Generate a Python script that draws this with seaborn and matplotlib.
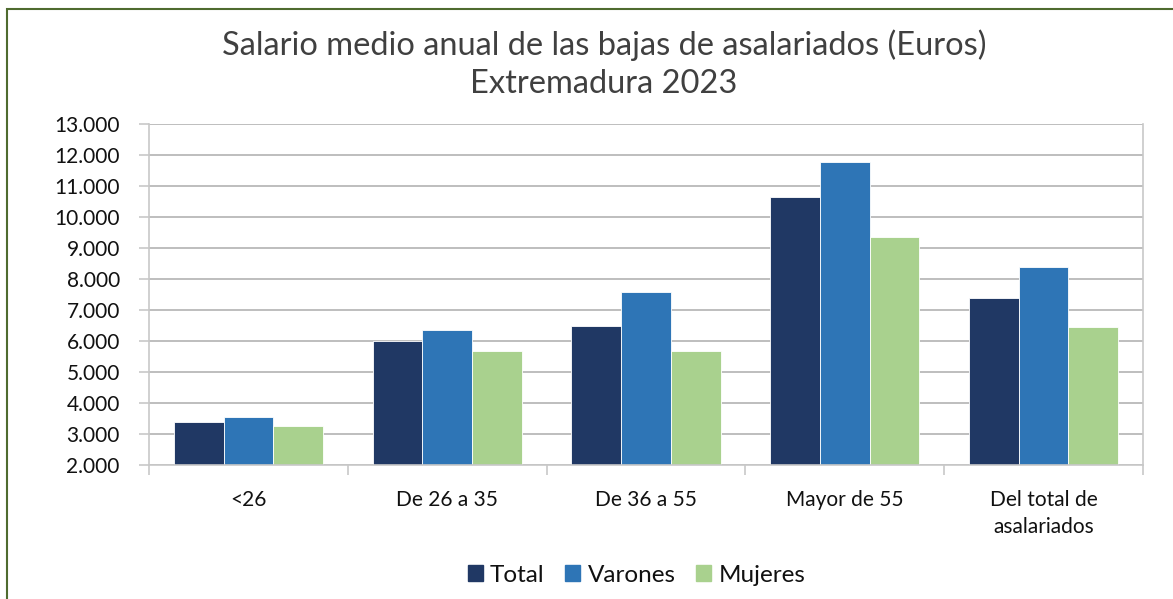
import matplotlib
matplotlib.use("Agg")
import matplotlib.pyplot as plt
import matplotlib.patches as mpatches
from matplotlib.ticker import FuncFormatter, MultipleLocator
import seaborn as sns
import pandas as pd

# data
categorias = ["<26", "De 26 a 35", "De 36 a 55", "Mayor de 55", "Del total de\nasalariados"]
total = [3395, 5996, 6489, 10646, 7382]
varones = [3534, 6360, 7595, 11764, 8381]
mujeres = [3266, 5684, 5690, 9348, 6457]
series = ["Total", "Varones", "Mujeres"]
colores = ["#203864", "#2E75B6", "#A9D18E"]

df = pd.DataFrame({
    "categoria": categorias * 3,
    "serie": ["Total"] * 5 + ["Varones"] * 5 + ["Mujeres"] * 5,
    "valor": total + varones + mujeres,
})

sns.set_theme(style="white")
plt.rcParams["font.family"] = ["Lato", "DejaVu Sans"]

fig = plt.figure(figsize=(11.73, 5.99), dpi=100)
ax = fig.add_axes([0.127, 0.2237, 0.8474, 0.5693])

sns.barplot(data=df, x="categoria", y="valor", hue="serie", order=categorias,
            hue_order=series, palette=colores, width=0.75, edgecolor="white",
            linewidth=0.6, saturation=1, ax=ax, legend=False)

ax.set_ylim(2000, 13000)
ax.set_xlim(-0.5, len(categorias) - 0.5)
ax.yaxis.set_major_locator(MultipleLocator(1000))
ax.yaxis.set_major_formatter(FuncFormatter(lambda v, p: f"{int(v):,}".replace(",", ".")))
ax.grid(axis="y", color="#b3b3b3", linewidth=1.2)
ax.set_axisbelow(True)
ax.set_xlabel("")
ax.set_ylabel("")

for side in ["left", "bottom", "right"]:
    ax.spines[side].set_color("#c8c8c8")
    ax.spines[side].set_linewidth(1.2)
ax.spines["top"].set_visible(False)

# category boundary ticks on x
ax.set_xticks([i - 0.5 for i in range(len(categorias) + 1)], minor=True)
ax.tick_params(axis="x", which="minor", length=7, width=1.2, color="#c8c8c8", direction="out", bottom=True)
ax.tick_params(axis="x", which="major", length=0, pad=18, labelsize=15, labelcolor="#111111")
ax.set_xticks(range(len(categorias)))
ax.set_xticklabels(categorias, linespacing=1.45)
ax.tick_params(axis="y", length=7, width=1.2, color="#c8c8c8", direction="out", left=True,
               labelsize=15, labelcolor="#111111", pad=14)

fig.text(0.515, 0.925, "Salario medio anual de las bajas de asalariados (Euros)",
         ha="center", va="center", fontsize=23.5, color="#404040")
fig.text(0.515, 0.86, "Extremadura 2023", ha="center", va="center",
         fontsize=23.5, color="#404040")

handles = [mpatches.Patch(color=c, label=s) for c, s in zip(colores, series)]
fig.legend(handles=handles, loc="center", bbox_to_anchor=(0.5426, 0.04), ncol=3,
           frameon=False, fontsize=17.5, handlelength=0.62, handleheight=0.62,
           handletextpad=0.3, columnspacing=0.85)
for t in fig.legends[0].get_texts():
    t.set_color("#111111")

# outer chart border
fig.patches.append(mpatches.Rectangle((7 / 1173, -0.05), 1.1, 1 - 9 / 599 + 0.05,
                                      transform=fig.transFigure, fill=False,
                                      edgecolor="#4f6b2f", linewidth=1.5))

fig.savefig("out.png", dpi=100)
